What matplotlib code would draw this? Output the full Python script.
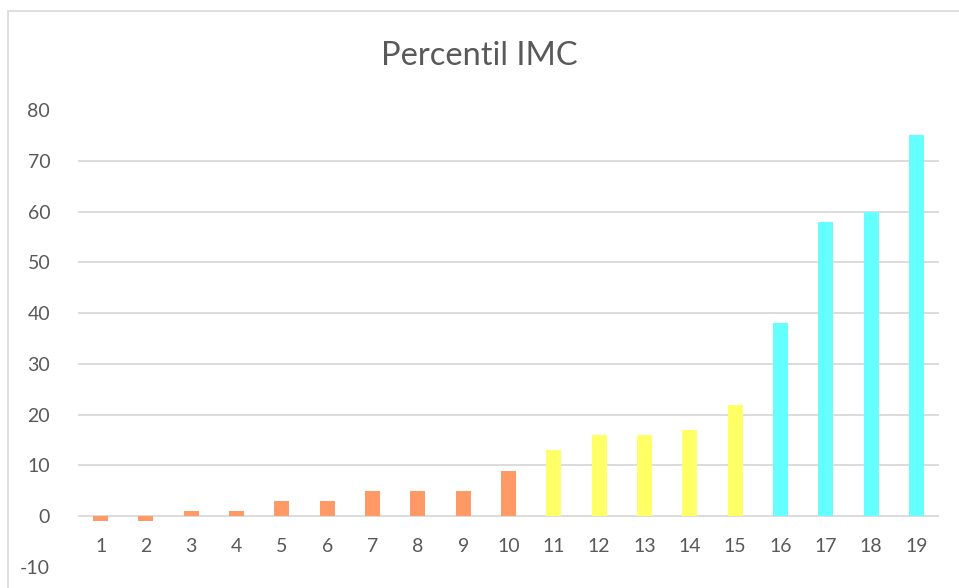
import matplotlib
matplotlib.use("Agg")
import matplotlib.pyplot as plt
from matplotlib.patches import Rectangle

# Data
categories = [str(i) for i in range(1, 20)]
values = [-1, -1, 1, 1, 3, 3, 5, 5, 5, 9, 13, 16, 16, 17, 22, 38, 58, 60, 75]
bar_colors = (["#FF9966"] * 10) + (["#FFFF66"] * 5) + (["#66FFFF"] * 4)
y_ticks = [-10, 0, 10, 20, 30, 40, 50, 60, 70, 80]
title = "Percentil IMC"

plt.rcParams["font.family"] = ["Lato", "DejaVu Sans"]
text_color = "#595959"
grid_color = "#D9D9D9"

fig = plt.figure(figsize=(9.59, 5.88), dpi=100)
W, H = 959, 588

# chart area outline
fig.patches.append(Rectangle((8 / W, -0.1), 1.1, 1 - 11 / H + 0.1,
                             transform=fig.transFigure, fill=False,
                             edgecolor="#D9D9D9", linewidth=1.2))

ax = fig.add_axes([78 / W, 1 - 567 / H, (939 - 78) / W, (567 - 110) / H])

x = list(range(len(categories)))
ax.bar(x, values, width=0.33, color=bar_colors, zorder=3)

ax.set_xlim(-0.5, len(categories) - 0.5)
ax.set_ylim(-10, 80)

# horizontal gridlines
for t in y_ticks:
    if -10 < t < 80:
        ax.axhline(t, color=grid_color, linewidth=1.3, zorder=1)

for s in ["top", "right", "left", "bottom"]:
    ax.spines[s].set_visible(False)

ax.set_yticks(y_ticks)
ax.set_yticklabels([str(t) for t in y_ticks])
ax.tick_params(axis="y", length=0, pad=20, labelsize=14, labelcolor=text_color)

ax.set_xticks([])
for xi, lab in zip(x, categories):
    ax.annotate(lab, xy=(xi, 0), xycoords="data", xytext=(0, -30),
                textcoords="offset pixels", ha="center", va="center",
                fontsize=14, color=text_color)

fig.text(0.5, 1 - 56 / H, title, ha="center", va="center",
         fontsize=23.5, color=text_color)

fig.savefig("out.png", dpi=100)
